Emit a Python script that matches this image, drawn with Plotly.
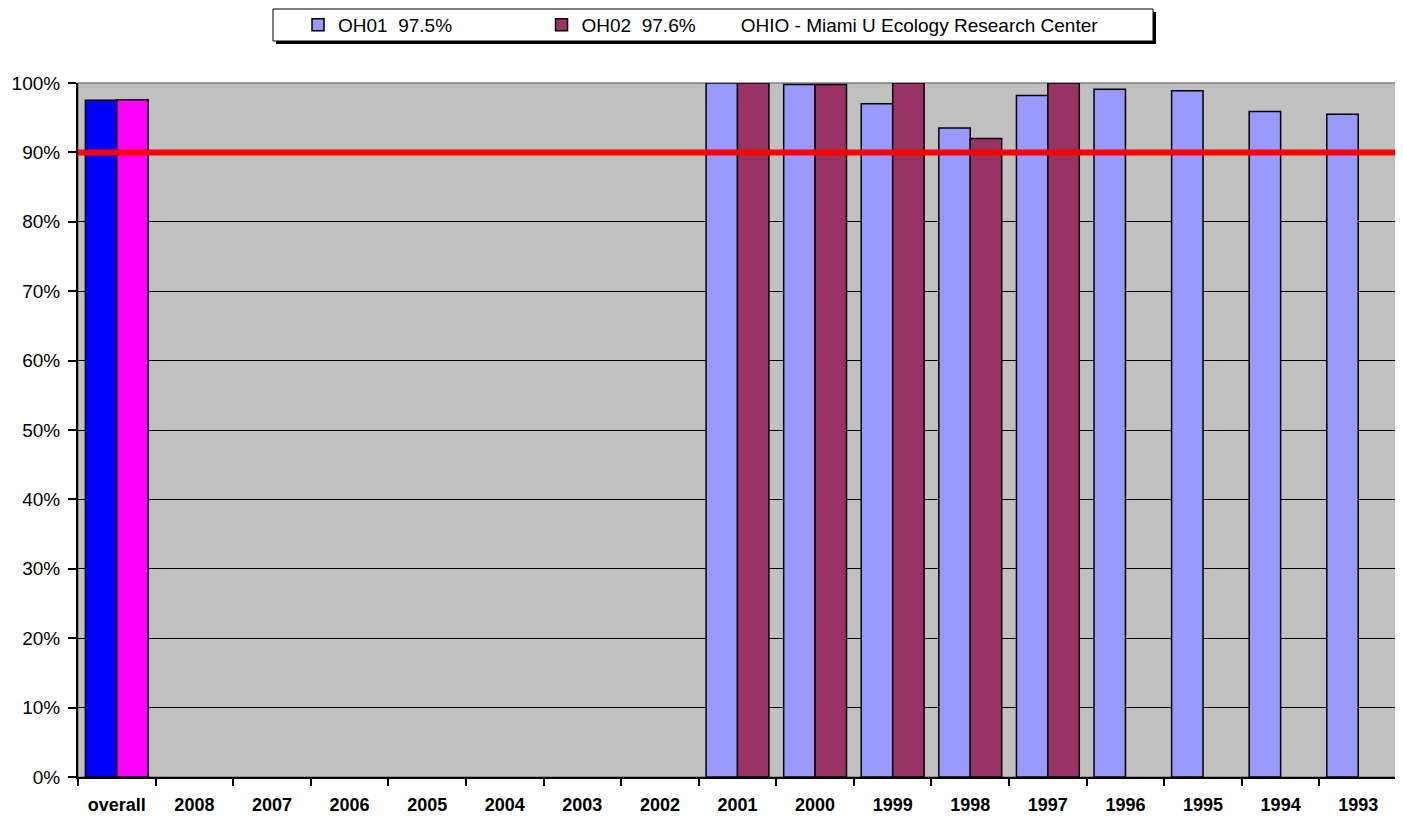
import plotly.graph_objects as go

categories = ["overall", "2008", "2007", "2006", "2005", "2004", "2003", "2002",
              "2001", "2000", "1999", "1998", "1997", "1996", "1995", "1994", "1993"]
oh01 = [97.5, None, None, None, None, None, None, None,
        100.0, 99.8, 97.0, 93.5, 98.2, 99.1, 98.9, 95.9, 95.5]
oh02 = [97.6, None, None, None, None, None, None, None,
        100.0, 99.8, 100.0, 92.0, 100.0, None, None, None, None]
target = 90
name1 = "OH01  97.5%"
name2 = "OH02  97.6%"
name3 = "OHIO - Miami U Ecology Research Center"

c1 = "#9999FF"
c2 = "#993366"
c1_overall = "#0000FF"
c2_overall = "#FF00FF"

# page has an 8px body margin; figure is sized to fit the 1403x819 window
OFF = 8
W, H = 1403 - OFF, 819 - OFF
L, R, T, B = 78 - OFF, 6, 83 - OFF, 42
pw, ph = W - L - R, H - T - B

def px(x):
    return (x - OFF - L) / pw

def py(y):
    return (H + OFF - B - y) / ph

def cx(x):
    return (x - OFF) / W

def cy(y):
    return 1 - (y - OFF) / H

def nb(s):
    return s.replace(" ", "\u00a0")

line = dict(color="black", width=1.5)
fig = go.Figure()
fig.add_trace(go.Bar(
    x=categories, y=oh01, name=name1, showlegend=False, offsetgroup="a",
    marker=dict(color=[c1_overall] + [c1] * (len(categories) - 1), line=line),
))
fig.add_trace(go.Bar(
    x=categories, y=oh02, name=name2, showlegend=False, offsetgroup="b",
    marker=dict(color=[c2_overall] + [c2] * (len(categories) - 1), line=line),
))
# legend entries
fig.add_trace(go.Bar(
    x=[categories[0]], y=[None], name=nb(name1) + "\u00a0" * 16, offsetgroup="a",
    marker=dict(color=c1, line=line), hoverinfo="skip",
))
fig.add_trace(go.Bar(
    x=[categories[0]], y=[None], name=nb(name2), offsetgroup="b",
    marker=dict(color=c2, line=line), hoverinfo="skip",
))
fig.add_trace(go.Scatter(
    x=[categories[0]], y=[None], mode="markers", name=name3,
    marker=dict(color="rgba(0,0,0,0)", size=1), hoverinfo="skip",
))

# legend box with shadow
fig.add_shape(type="rect", xref="paper", yref="paper",
              x0=px(276), x1=px(1156), y0=py(44), y1=py(12),
              fillcolor="black", line=dict(width=0), layer="below")
fig.add_shape(type="rect", xref="paper", yref="paper",
              x0=px(273), x1=px(1153), y0=py(41), y1=py(9),
              fillcolor="white", line=dict(color="black", width=1), layer="below")

# plot frame (gray top/right)
fig.add_shape(type="rect", xref="paper", yref="paper", x0=0, x1=1, y0=0, y1=1,
              line=dict(color="#808080", width=1.5), layer="below")

# target line
fig.add_shape(type="line", xref="paper", yref="y", x0=0, x1=1, y0=target, y1=target,
              line=dict(color="#FF0000", width=6), layer="above")

fig.update_layout(
    width=W, height=H,
    margin=dict(l=L, r=R, t=T, b=B, autoexpand=False),
    paper_bgcolor="white",
    plot_bgcolor="#C0C0C0",
    barmode="group",
    bargap=0.19,
    bargroupgap=0,
    font=dict(family="Liberation Sans, Arial, sans-serif", size=19, color="black"),
    legend=dict(orientation="h", xref="container", yref="container",
                x=cx(298), xanchor="left", y=cy(25), yanchor="middle",
                bgcolor="rgba(0,0,0,0)", borderwidth=0,
                font=dict(size=19), itemwidth=30, traceorder="normal"),
    xaxis=dict(type="category", tickson="boundaries", ticks="outside", ticklen=7,
               tickcolor="black", tickwidth=2, showline=True, linecolor="black",
               linewidth=2, showgrid=False, automargin=False, ticklabelstandoff=10,
               tickfont=dict(size=18, family="Liberation Sans, Arial, sans-serif",
                             weight="bold"),
               range=[-0.5, len(categories) - 0.5]),
    yaxis=dict(range=[0, 100], tickvals=[0, 10, 20, 30, 40, 50, 60, 70, 80, 90, 100],
               ticktext=["0%", "10%", "20%", "30%", "40%", "50%", "60%", "70%",
                         "80%", "90%", "100%"],
               ticks="outside", ticklen=8, tickcolor="black", tickwidth=2,
               showline=True, linecolor="black", linewidth=2, automargin=False,
               ticklabelstandoff=4,
               showgrid=True, gridcolor="black", gridwidth=1, zeroline=False,
               tickfont=dict(size=19)),
)

fig.write_html("out.html")
